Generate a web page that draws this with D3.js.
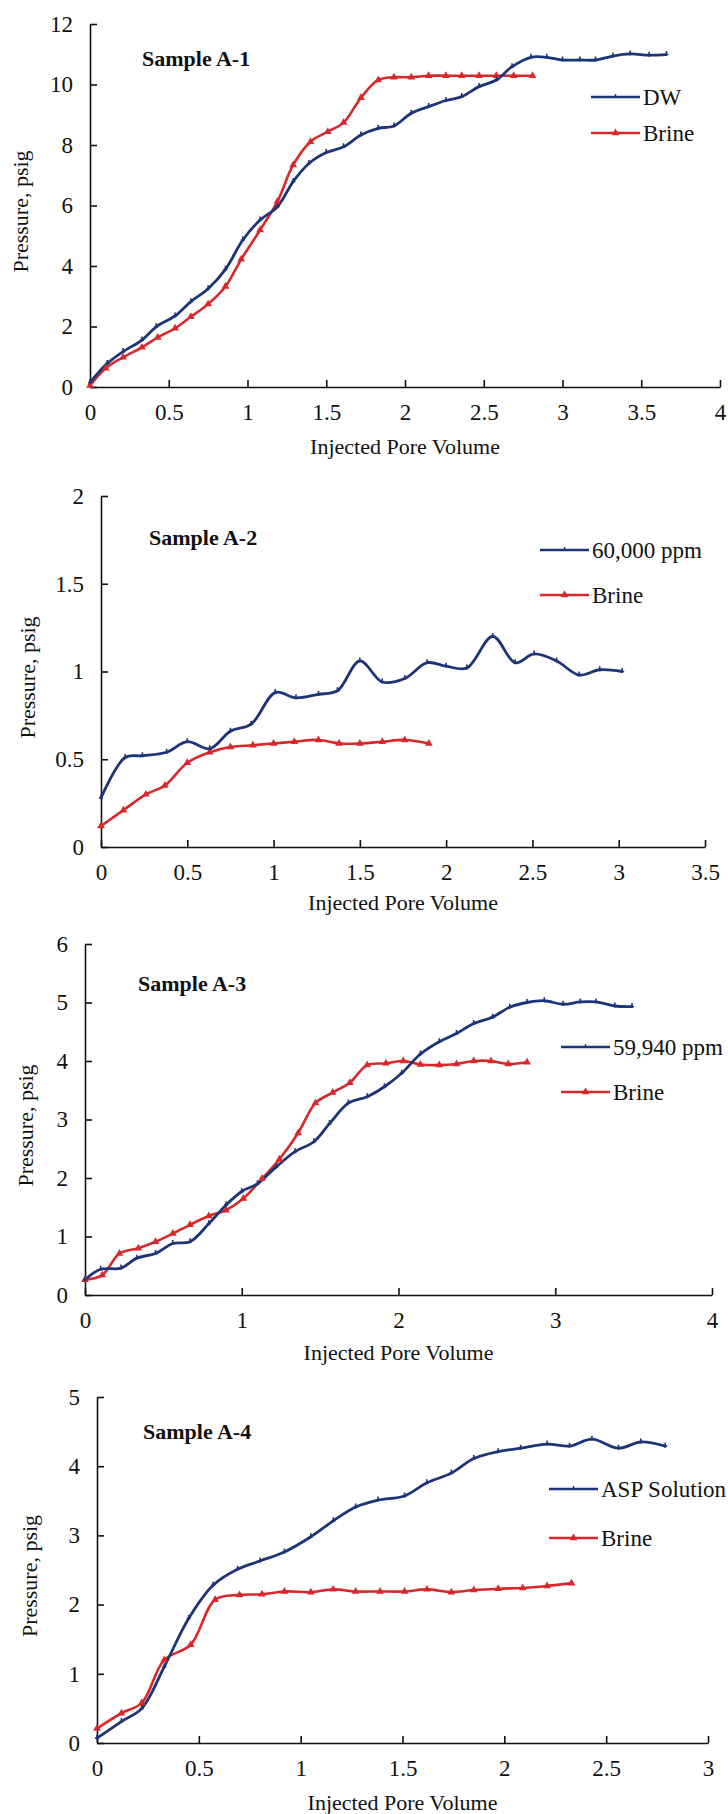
<!DOCTYPE html>
<html>
<head>
<meta charset="utf-8">
<script src="https://cdn.jsdelivr.net/npm/d3@7"></script>
<style>
body { margin: 0; background: #fff; }
svg text { font-family: "Liberation Serif", "Times New Roman", "DejaVu Serif", serif !important; fill: #111; }
</style>
</head>
<body>
<div id="chart"></div>
<script>
// Sample A-1
var a1Dw = [[0,0.15],[0.11,0.78],[0.21,1.17],[0.33,1.55],[0.42,1.99],[0.54,2.35],[0.64,2.82],[0.75,3.25],[0.86,3.89],[0.97,4.86],[1.08,5.52],[1.19,5.96],[1.29,6.79],[1.39,7.39],[1.50,7.75],[1.61,7.94],[1.72,8.33],[1.83,8.55],[1.93,8.63],[2.04,9.05],[2.15,9.27],[2.26,9.47],[2.36,9.60],[2.47,9.93],[2.58,10.15],[2.68,10.59],[2.80,10.90],[2.90,10.90],[3.00,10.81],[3.11,10.81],[3.21,10.81],[3.32,10.94],[3.43,11.01],[3.55,10.97],[3.66,10.99]];
var a1Brine = [[0,0.05],[0.10,0.62],[0.21,0.98],[0.33,1.31],[0.43,1.64],[0.54,1.94],[0.64,2.32],[0.75,2.74],[0.86,3.32],[0.96,4.22],[1.08,5.19],[1.19,6.13],[1.29,7.34],[1.40,8.11],[1.51,8.44],[1.61,8.74],[1.72,9.56],[1.83,10.15],[1.93,10.24],[2.04,10.24],[2.15,10.29],[2.26,10.29],[2.36,10.29],[2.47,10.29],[2.58,10.29],[2.69,10.29],[2.81,10.29]];
// Sample A-2
var a2Ppm = [[0,0.28],[0.14,0.51],[0.24,0.52],[0.38,0.54],[0.50,0.60],[0.63,0.56],[0.75,0.66],[0.87,0.70],[1.01,0.88],[1.13,0.85],[1.26,0.87],[1.37,0.89],[1.50,1.06],[1.63,0.94],[1.76,0.96],[1.89,1.05],[2.00,1.03],[2.12,1.02],[2.27,1.20],[2.40,1.05],[2.51,1.10],[2.64,1.06],[2.77,0.98],[2.89,1.01],[3.02,1.00]];
var a2Brine = [[0,0.12],[0.13,0.21],[0.26,0.30],[0.37,0.35],[0.50,0.48],[0.63,0.54],[0.75,0.57],[0.88,0.58],[1.00,0.59],[1.12,0.60],[1.26,0.61],[1.38,0.59],[1.50,0.59],[1.63,0.60],[1.76,0.61],[1.90,0.59]];
// Sample A-3
var a3Ppm = [[0,0.26],[0.10,0.44],[0.23,0.46],[0.33,0.63],[0.45,0.71],[0.56,0.88],[0.67,0.91],[0.79,1.22],[0.90,1.54],[1.00,1.77],[1.10,1.90],[1.22,2.19],[1.34,2.45],[1.46,2.62],[1.56,2.93],[1.68,3.28],[1.80,3.39],[1.91,3.56],[2.02,3.79],[2.14,4.12],[2.26,4.33],[2.37,4.47],[2.48,4.64],[2.60,4.75],[2.71,4.92],[2.82,5.00],[2.93,5.03],[3.05,4.97],[3.16,5.01],[3.26,5.01],[3.38,4.94],[3.49,4.93]];
var a3Brine = [[0,0.26],[0.11,0.34],[0.22,0.71],[0.34,0.80],[0.45,0.91],[0.56,1.05],[0.67,1.20],[0.79,1.35],[0.90,1.45],[1.01,1.65],[1.13,1.99],[1.24,2.32],[1.36,2.77],[1.47,3.28],[1.58,3.46],[1.69,3.63],[1.80,3.93],[1.92,3.96],[2.03,4.00],[2.14,3.94],[2.26,3.93],[2.37,3.95],[2.48,4.00],[2.59,4.00],[2.70,3.95],[2.82,3.98]];
// Sample A-4
var a4Asp = [[0,0.07],[0.12,0.31],[0.22,0.50],[0.33,1.10],[0.45,1.80],[0.57,2.28],[0.69,2.51],[0.80,2.63],[0.92,2.76],[1.05,2.98],[1.16,3.21],[1.27,3.41],[1.38,3.51],[1.51,3.57],[1.62,3.76],[1.74,3.90],[1.85,4.11],[1.97,4.21],[2.08,4.26],[2.21,4.32],[2.32,4.29],[2.43,4.39],[2.56,4.26],[2.67,4.35],[2.79,4.29]];
var a4Brine = [[0,0.21],[0.12,0.43],[0.22,0.58],[0.33,1.20],[0.46,1.42],[0.58,2.07],[0.70,2.14],[0.81,2.15],[0.92,2.19],[1.05,2.18],[1.16,2.22],[1.27,2.19],[1.39,2.19],[1.51,2.19],[1.62,2.22],[1.74,2.18],[1.85,2.21],[1.97,2.23],[2.09,2.24],[2.21,2.27],[2.33,2.31]];

var xTicks1 = [0,0.5,1,1.5,2,2.5,3,3.5,4], yTicks1 = [0,2,4,6,8,10,12];
var xTicks2 = [0,0.5,1,1.5,2,2.5,3,3.5], yTicks2 = [0,0.5,1,1.5,2];
var xTicks3 = [0,1,2,3,4], yTicks3 = [0,1,2,3,4,5,6];
var xTicks4 = [0,0.5,1,1.5,2,2.5,3], yTicks4 = [0,1,2,3,4,5];

var blue = "#1d3577", red = "#d8282b";
var serif = "'Liberation Serif', 'Times New Roman', 'DejaVu Serif', serif";

var panels = [
  {title:"Sample A-1", l:90, r:720, t:24, b:387, xt:xTicks1, yt:yTicks1, s1:a1Dw, s2:a1Brine, n1:"DW",
   tx:142, ty:66, lx:591, ly:97, ly2:133, yx:21, xy:454},
  {title:"Sample A-2", l:101, r:705, t:496, b:847, xt:xTicks2, yt:yTicks2, s1:a2Ppm, s2:a2Brine, n1:"60,000 ppm",
   tx:149, ty:545, lx:540, ly:550, ly2:595, yx:28, xy:910},
  {title:"Sample A-3", l:85, r:712, t:944, b:1295, xt:xTicks3, yt:yTicks3, s1:a3Ppm, s2:a3Brine, n1:"59,940 ppm",
   tx:138, ty:991, lx:561, ly:1047, ly2:1092, yx:26, xy:1360},
  {title:"Sample A-4", l:97, r:708, t:1397, b:1743, xt:xTicks4, yt:yTicks4, s1:a4Asp, s2:a4Brine, n1:"ASP Solution",
   tx:143, ty:1439, lx:549, ly:1489, ly2:1538, yx:30, xy:1810}
];

var svg = d3.select("#chart").append("svg")
    .attr("width", 728)
    .attr("height", 1814)
    .style("font-family", serif);

var fmt = d3.format("~g");

function styleAxis(a){
  a.attr("font-family", null).attr("font-size", null);
  a.selectAll("text").attr("font-size", "23px").style("font-family", serif).attr("fill", "#111");
  a.selectAll("line,path").attr("stroke", "#111").attr("stroke-width", 1.6);
}

panels.forEach(function(p){
  var x = d3.scaleLinear().domain([0, d3.max(p.xt)]).range([p.l, p.r]);
  var y = d3.scaleLinear().domain([0, d3.max(p.yt)]).range([p.b, p.t]);
  var g = svg.append("g");

  g.append("g")
    .attr("transform", "translate(0," + p.b + ")")
    .call(d3.axisBottom(x).tickValues(p.xt).tickFormat(fmt).tickSizeInner(-7).tickSizeOuter(0).tickPadding(17))
    .call(styleAxis);

  g.append("g")
    .attr("transform", "translate(" + p.l + ",0)")
    .call(d3.axisLeft(y).tickValues(p.yt).tickFormat(fmt).tickSizeInner(-7).tickSizeOuter(0).tickPadding(17))
    .call(styleAxis);

  var line = d3.line()
    .x(function(d){ return x(d[0]); })
    .y(function(d){ return y(d[1]); })
    .curve(d3.curveCatmullRom);

  g.append("path").datum(p.s2)
    .attr("d", line).attr("fill", "none").attr("stroke", red).attr("stroke-width", 2.6);
  g.append("path").datum(p.s1)
    .attr("d", line).attr("fill", "none").attr("stroke", blue).attr("stroke-width", 2.8);

  var tri = d3.symbol().type(d3.symbolTriangle).size(26);
  g.selectAll(".m2").data(p.s2).enter().append("path")
    .attr("transform", function(d){ return "translate(" + x(d[0]) + "," + y(d[1]) + ")"; })
    .attr("d", tri).attr("fill", red);
  g.selectAll(".m1").data(p.s1).enter().append("path")
    .attr("transform", function(d){ return "translate(" + x(d[0]) + "," + y(d[1]) + ")"; })
    .attr("d", "M-2,0L2,0M0,-3.5L0,1.5").attr("stroke", blue).attr("stroke-width", 1.6);

  // sample title
  g.append("text")
    .attr("x", p.tx).attr("y", p.ty)
    .attr("font-size", "22px").attr("font-weight", "bold")
    .style("font-family", serif)
    .text(p.title);

  // legend
  var items = [{n:p.n1, c:blue, yy:p.ly, k:1}, {n:"Brine", c:red, yy:p.ly2, k:2}];
  items.forEach(function(it){
    g.append("line")
      .attr("x1", p.lx).attr("x2", p.lx + 49)
      .attr("y1", it.yy).attr("y2", it.yy)
      .attr("stroke", it.c).attr("stroke-width", 2.6);
    if(it.k === 2){
      g.append("path").attr("transform", "translate(" + (p.lx + 24.5) + "," + it.yy + ")")
        .attr("d", tri).attr("fill", red);
    } else {
      g.append("path").attr("transform", "translate(" + (p.lx + 24.5) + "," + it.yy + ")")
        .attr("d", "M0,-3L0,1").attr("stroke", blue).attr("stroke-width", 1.4);
    }
    g.append("text")
      .attr("x", p.lx + 52).attr("y", it.yy + 8)
      .attr("font-size", "23px")
      .style("font-family", serif)
      .text(it.n);
  });

  // axis titles
  g.append("text")
    .attr("x", (p.l + p.r) / 2).attr("y", p.xy)
    .attr("text-anchor", "middle").attr("font-size", "22px")
    .style("font-family", serif)
    .text("Injected Pore Volume");

  g.append("text")
    .attr("transform", "translate(" + (p.yx + 7) + "," + ((p.t + p.b) / 2 + 6) + ") rotate(-90)")
    .attr("text-anchor", "middle").attr("font-size", "22px")
    .style("font-family", serif)
    .text("Pressure, psig");
});
</script>
</body>
</html>
